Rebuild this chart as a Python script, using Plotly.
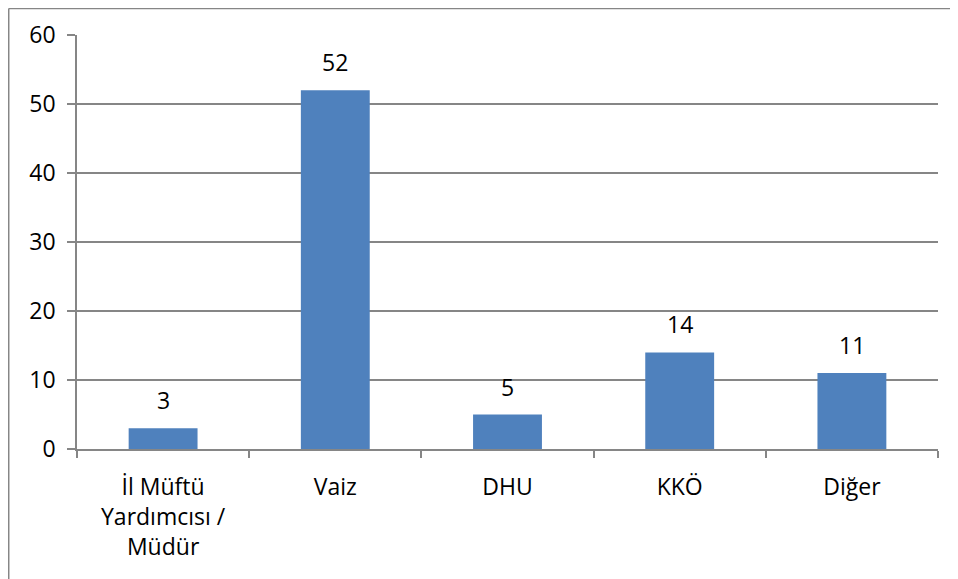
import plotly.graph_objects as go

categories = ["İl Müftü<br>Yardımcısı /<br>Müdür", "Vaiz", "DHU", "KKÖ", "Diğer"]
values = [3, 52, 5, 14, 11]
y_ticks = [0, 10, 20, 30, 40, 50, 60]

FONT = "Open Sans"
GRID = "#868686"
FS = 23

fig = go.Figure()
fig.add_trace(go.Bar(
    x=categories, y=values,
    marker=dict(color="#4F81BD", line=dict(width=0)),
    width=0.4,
))

for c, v in zip(categories, values):
    fig.add_annotation(x=c, y=v, text=str(v), showarrow=False,
                       yanchor="bottom", yshift=10,
                       font=dict(family=FONT, size=FS, color="black"))

# outer chart border (top and left visible)
fig.add_shape(type="line", xref="paper", yref="paper",
              x0=-0.0793, x1=1.05, y0=1.064, y1=1.064,
              line=dict(color=GRID, width=1.5))
fig.add_shape(type="line", xref="paper", yref="paper",
              x0=-0.0793, x1=-0.0793, y0=1.064, y1=-0.32,
              line=dict(color=GRID, width=1.5))

fig.update_layout(
    width=950, height=571,
    margin=dict(l=69, r=20, t=27, b=130),
    plot_bgcolor="white", paper_bgcolor="white",
    showlegend=False,
    font=dict(family=FONT, size=FS, color="black"),
    xaxis=dict(
        showline=True, linecolor=GRID, linewidth=1.5,
        ticks="outside", ticklen=7, tickcolor=GRID, tickwidth=1.5,
        tickson="boundaries", showgrid=False,
        tickfont=dict(family=FONT, size=FS, color="black"),
        ticklabelstandoff=17,
        automargin=False,
    ),
    yaxis=dict(
        range=[0, 60], tickvals=y_ticks,
        showline=True, linecolor=GRID, linewidth=1.5,
        ticks="outside", ticklen=8, tickcolor=GRID, tickwidth=1.5,
        showgrid=True, gridcolor=GRID, gridwidth=1.5,
        zeroline=False,
        tickfont=dict(family=FONT, size=FS, color="black"),
        ticklabelstandoff=7,
        automargin=False,
    ),
)

fig.write_html("out.html")
